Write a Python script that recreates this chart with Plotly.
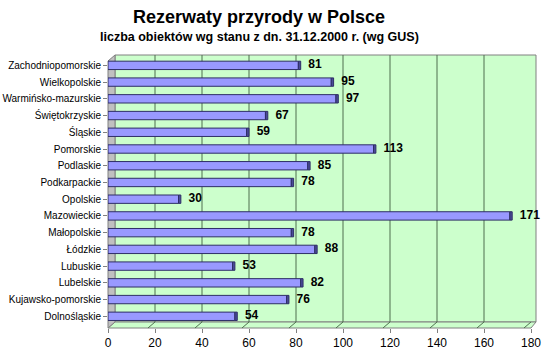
import plotly.graph_objects as go

regions = ["Dolnośląskie", "Kujawsko-pomorskie", "Lubelskie", "Lubuskie", "Łódzkie",
           "Małopolskie", "Mazowieckie", "Opolskie", "Podkarpackie", "Podlaskie",
           "Pomorskie", "Śląskie", "Świętokrzyskie", "Warmińsko-mazurskie",
           "Wielkopolskie", "Zachodniopomorskie"]
counts = [54, 76, 82, 53, 88, 78, 171, 30, 78, 85, 113, 59, 67, 97, 95, 81]
x_ticks = [0, 20, 40, 60, 80, 100, 120, 140, 160, 180]

title = "Rezerwaty przyrody w Polsce"
subtitle = "liczba obiektów wg stanu z dn. 31.12.2000 r. (wg GUS)"

FONT = "Liberation Sans, Arial, sans-serif"

# layout geometry (pixels)
W, H = 550, 364
L, R, T, B = 108, 14, 57, 36
PW, PH = W - L - R, H - T - B
depth_x, depth_y = 7, 6          # 3D offset between front edge and back wall

def px_x(p):   # pixel -> paper x
    return (p - L) / PW

def px_y(p):   # pixel -> paper y
    return (H - B - p) / PH

back_x0, back_x1 = px_x(L + depth_x), 1.0
front_x1 = px_x(W - R - 5)
back_y0, back_y1 = px_y(H - B - depth_y), px_y(55)
front_y1 = back_y1 - depth_y / PH

GRID = "#4F6F4F"
EDGE = "#808080"
CAP = 1.0   # depth of the dark 3D end face of each bar, in data units

fig = go.Figure()
# invisible trace so the front axis (x, y) subplot is drawn
fig.add_trace(go.Scatter(x=[0], y=[regions[0]], mode="markers", marker=dict(opacity=0),
                         hoverinfo="skip", showlegend=False))
fig.add_trace(go.Bar(
    y=regions, x=counts, orientation="h", xaxis="x2",
    marker=dict(color="#9999FF", line=dict(color="#2E2E66", width=1)),
    width=0.5, hoverinfo="x+y",
))
fig.add_trace(go.Bar(
    y=regions, x=[CAP] * len(counts), base=counts, orientation="h", xaxis="x2",
    marker=dict(color="#4A4A99", line=dict(color="#2E2E66", width=1)),
    width=0.5, hoverinfo="skip",
))
fig.add_trace(go.Scatter(
    y=regions, x=counts, mode="text", xaxis="x2",
    text=["\u00a0\u00a0\u00a0" + str(v) for v in counts], textposition="middle right",
    textfont=dict(family=FONT, size=12, color="black", weight="bold"),
    cliponaxis=False, hoverinfo="skip",
))

shapes = [
    # back wall
    dict(type="rect", xref="paper", yref="paper", x0=back_x0, x1=back_x1, y0=back_y0, y1=back_y1,
         fillcolor="#CCFFCC", line=dict(color=EDGE, width=1), layer="below"),
    # floor
    dict(type="path", xref="paper", yref="paper",
         path=f"M {back_x0},{back_y0} L {back_x1},{back_y0} L {front_x1},0 L 0,0 Z",
         fillcolor="#CCFFCC", line=dict(color=EDGE, width=1), layer="below"),
    # left wall
    dict(type="path", xref="paper", yref="paper",
         path=f"M 0,0 L {back_x0},{back_y0} L {back_x0},{back_y1} L 0,{front_y1} Z",
         fillcolor="#C0C0C0", line=dict(color=EDGE, width=1), layer="below"),
]
# gridlines on back wall + diagonal continuation on the floor
shift = depth_x * 180 / (PW * (1 - back_x0))
for v in x_ticks[1:-1]:
    shapes.append(dict(type="line", xref="x2", yref="paper", x0=v, x1=v, y0=back_y0, y1=back_y1,
                       line=dict(color=GRID, width=1), layer="below"))
for v in x_ticks[1:]:
    shapes.append(dict(type="line", xref="x2", yref="paper", x0=v, x1=v - shift, y0=back_y0, y1=0,
                       line=dict(color=GRID, width=1), layer="below"))

fig.update_layout(
    width=W, height=H,
    margin=dict(l=L, r=R, t=T, b=B, autoexpand=False),
    paper_bgcolor="white",
    plot_bgcolor="white",
    font=dict(family=FONT, size=11, color="black"),
    showlegend=False,
    barmode="overlay",
    shapes=shapes,
    annotations=[
        dict(text=f"<b>{title}</b>", xref="paper", yref="paper",
             x=px_x(259), y=px_y(17), xanchor="center", yanchor="middle",
             showarrow=False, font=dict(size=18, family=FONT)),
        dict(text=f"<b>{subtitle}</b>", xref="paper", yref="paper",
             x=px_x(259), y=px_y(37), xanchor="center", yanchor="middle",
             showarrow=False, font=dict(size=12.5, family=FONT)),
    ],
    xaxis=dict(domain=[0, front_x1], range=[0, 180], tickvals=x_ticks, showgrid=False,
               zeroline=False, showline=False, ticks="outside", ticklen=4, tickcolor=EDGE,
               automargin=False, ticklabeloverflow="allow",
               tickfont=dict(size=12, family=FONT)),
    xaxis2=dict(domain=[back_x0, 1], range=[0, 180], anchor="y", overlaying="x",
                showgrid=False, zeroline=False, showline=False, showticklabels=False,
                ticks="", automargin=False),
    yaxis=dict(categoryorder="array", categoryarray=regions, range=[-0.7, 15.5],
               showgrid=False, showline=False, ticks="outside", ticklen=4,
               tickcolor=EDGE, automargin=False,
               tickfont=dict(size=10, family=FONT)),
)
fig.write_html("out.html", config={"displayModeBar": False},
               post_script="document.body.style.margin='0';")
